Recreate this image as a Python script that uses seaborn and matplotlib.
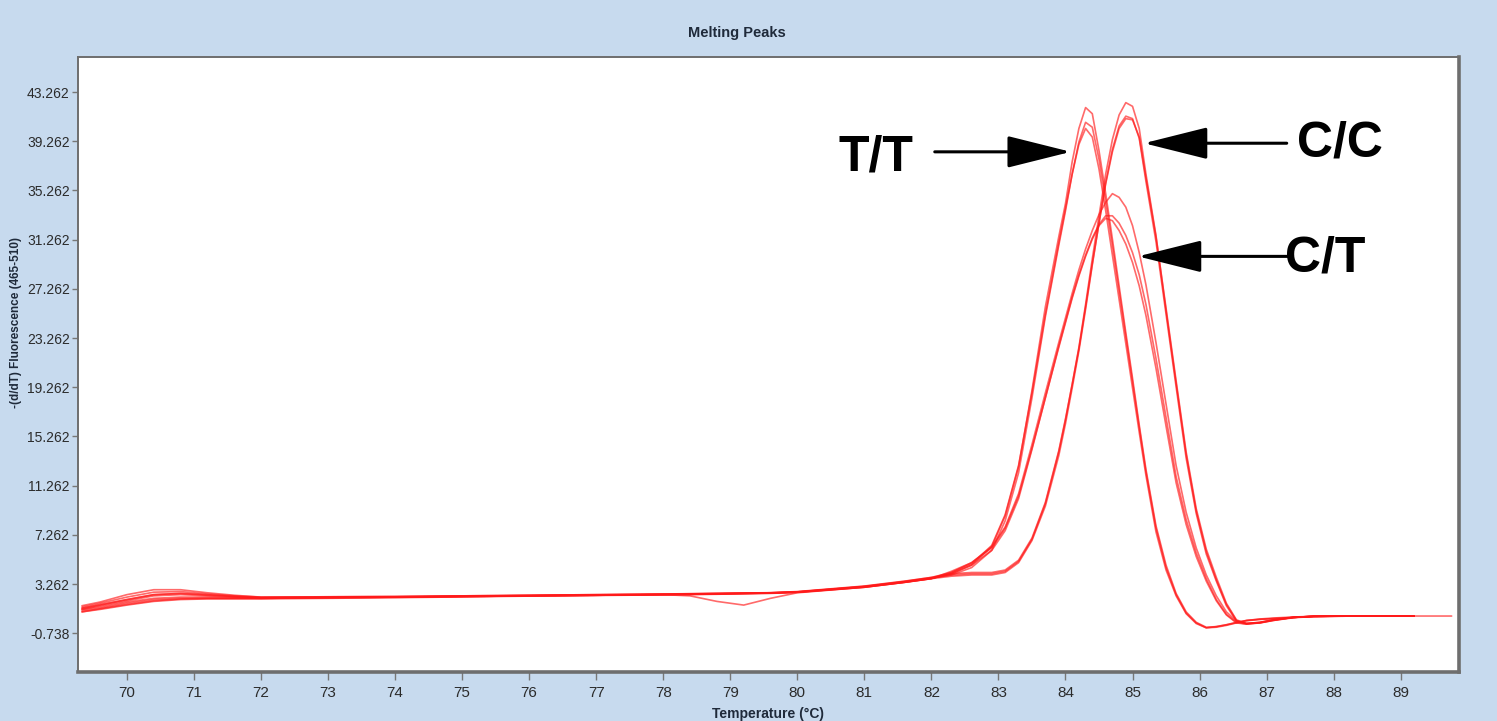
import numpy as np
import pandas as pd
import matplotlib
matplotlib.use("Agg")
import matplotlib.pyplot as plt
import seaborn as sns

# temperature grid (°C) shared by all traces
temps = [69.33, 69.6, 70.0, 70.4, 70.8, 71.2, 71.6, 72.0, 74.0, 76.0, 78.0, 78.4, 78.8, 79.2, 79.6, 80.0,
         81.0, 81.6, 82.0,
         82.3, 82.6, 82.9, 83.1, 83.3, 83.5, 83.7, 83.9, 84.0, 84.1, 84.2, 84.3, 84.4, 84.5, 84.6, 84.7,
         84.8, 84.9, 85.0, 85.1, 85.2, 85.35, 85.5, 85.65, 85.8, 85.95, 86.1, 86.25, 86.4, 86.55, 86.7,
         86.9, 87.1, 87.4, 87.7, 88.2, 89.2, 89.76]

# -(d/dT) fluorescence, one list per sample (None = no reading)
tt_1 = [1.5, 1.8, 2.4, 2.8, 2.8, 2.55, 2.35, 2.2, 2.25, 2.35, 2.45, 2.48, 2.5, 2.53, 2.56, 2.65, 3.1, 3.5, 3.8,
        4.1, 4.8, 6.3, 8.8, 12.8, 19.0, 25.8, 31.5, 34.2, 37.6, 40.3, 42.0, 41.5, 38.5, 35.0, 31.3, 27.5, 23.7,
        20.0, 16.2, 12.6, 8.0, 4.8, 2.5, 1.0, 0.15, -0.25, -0.2, -0.05, 0.15, 0.3, 0.4, 0.45, 0.55, 0.62, 0.66,
        0.66, None]
tt_2 = [1.2, 1.4, 1.8, 2.1, 2.2, 2.2, 2.15, 2.1, 2.2, 2.3, 2.4, 2.43, 2.46, 2.5, 2.53, 2.6, 3.05, 3.45, 3.75,
        4.0, 4.6, 6.0, 8.4, 12.3, 18.4, 25.0, 30.8, 33.6, 36.6, 39.2, 40.8, 40.4, 37.8, 34.4, 30.8, 27.1, 23.4,
        19.7, 16.0, 12.4, 7.8, 4.6, 2.4, 0.9, 0.1, -0.3, -0.25, -0.1, 0.1, 0.28, 0.38, 0.45, 0.55, 0.62, 0.65,
        0.65, None]
tt_3 = [1.0, 1.2, 1.55, 1.85, 2.0, 2.05, 2.05, 2.05, 2.15, 2.28, 2.38, 2.4, 2.43, 2.47, 2.5, 2.58, 3.0, 3.4, 3.7,
        4.2, 4.9, 6.4, 8.9, 12.9, 18.8, 25.2, 31.0, 33.8, 36.6, 39.0, 40.3, 39.6, 37.0, 33.6, 30.0, 26.4, 22.8,
        19.2, 15.6, 12.1, 7.5, 4.4, 2.3, 0.85, 0.05, -0.3, -0.2, -0.05, 0.12, 0.3, 0.42, 0.5, 0.58, 0.64, 0.66,
        0.66, None]
cc_1 = [1.4, 1.7, 2.2, 2.6, 2.65, 2.45, 2.3, 2.2, 2.25, 2.35, 2.45, 2.47, 2.5, 2.52, 2.55, 2.62, 3.05, 3.45, 3.75,
        4.0, 4.1, 4.1, 4.3, 5.1, 6.9, 9.8, 14.0, 16.6, 19.5, 22.5, 26.0, 29.7, 33.2, 36.6, 39.4, 41.4, 42.4,
        42.1, 40.3, 36.6, 31.6, 25.5, 19.6, 13.8, 9.2, 5.9, 3.6, 1.6, 0.3, 0.05, 0.15, 0.35, 0.55, 0.64, 0.66,
        0.66, 0.66]
cc_2 = [1.1, 1.3, 1.7, 2.0, 2.1, 2.1, 2.1, 2.1, 2.2, 2.3, 2.4, 2.42, 2.45, 2.48, 2.52, 2.6, 3.0, 3.4, 3.7,
        3.9, 4.0, 4.0, 4.2, 5.0, 6.8, 9.6, 13.7, 16.3, 19.2, 22.2, 25.6, 29.2, 32.6, 35.9, 38.6, 40.5, 41.3,
        41.1, 39.5, 36.0, 31.1, 25.2, 19.3, 13.5, 9.0, 5.7, 3.5, 1.5, 0.25, 0.05, 0.15, 0.35, 0.55, 0.64, 0.66,
        0.66, None]
cc_3 = [1.3, 1.6, 2.0, 2.4, 2.5, 2.35, 2.25, 2.15, 2.22, 2.32, 2.42, 2.45, 2.48, 2.5, 2.54, 2.62, 3.05, 3.42, 3.72,
        4.1, 4.2, 4.2, 4.4, 5.2, 7.0, 9.9, 14.1, 16.7, 19.5, 22.4, 25.8, 29.3, 32.6, 35.8, 38.4, 40.3, 41.1,
        41.0, 39.6, 36.3, 31.5, 25.7, 19.8, 14.0, 9.4, 6.1, 3.8, 1.7, 0.35, 0.05, 0.12, 0.32, 0.55, 0.64, 0.66,
        0.66, None]
ct_1 = [1.2, 1.5, 1.9, 2.3, 2.4, 2.3, 2.2, 2.15, 2.22, 2.33, 2.43, 2.46, 2.49, 2.52, 2.55, 2.63, 3.08, 3.48, 3.8,
        4.2, 5.0, 6.3, 7.9, 10.6, 14.6, 18.8, 22.9, 24.9, 26.9, 28.8, 30.5, 32.0, 33.3, 34.3, 35.0, 34.7, 33.9,
        32.4, 30.2, 27.6, 22.9, 17.9, 12.9, 9.1, 6.2, 4.0, 2.3, 1.0, 0.25, 0.05, 0.1, 0.3, 0.55, 0.64, 0.66,
        0.66, None]
ct_2 = [1.0, 1.25, 1.6, 1.9, 2.05, 2.1, 2.1, 2.1, 2.18, 2.3, 2.4, 2.43, 2.46, 2.5, 2.53, 2.6, 3.02, 3.42, 3.72,
        4.1, 4.8, 6.0, 7.6, 10.2, 14.2, 18.4, 22.6, 24.6, 26.6, 28.4, 30.0, 31.4, 32.5, 33.2, 33.2, 32.6, 31.6,
        30.2, 28.4, 26.0, 21.6, 16.8, 12.0, 8.5, 5.8, 3.7, 2.0, 0.8, 0.15, 0.0, 0.1, 0.3, 0.52, 0.62, 0.65,
        0.65, None]
ct_3 = [1.3, 1.55, 2.0, 2.4, 2.5, 2.4, 2.25, 2.15, 2.2, 2.3, 2.4, 2.3, 1.85, 1.55, 2.1, 2.55, 3.0, 3.4, 3.7,
        4.3, 5.0, 6.2, 7.8, 10.4, 14.3, 18.4, 22.5, 24.5, 26.5, 28.3, 29.9, 31.3, 32.4, 33.0, 32.8, 32.0, 30.9,
        29.4, 27.5, 25.1, 20.8, 16.1, 11.5, 8.1, 5.5, 3.5, 1.9, 0.75, 0.1, 0.0, 0.12, 0.35, 0.55, 0.63, 0.66,
        0.66, None]

samples = {"TT1": tt_1, "TT2": tt_2, "TT3": tt_3,
           "CC1": cc_1, "CC2": cc_2, "CC3": cc_3,
           "CT1": ct_1, "CT2": ct_2, "CT3": ct_3}

# genotype labels: (text, text position, arrow tail, arrow tip)
labels = [("T/T", (81.18, 37.9), (82.05, 38.4), (84.08, 38.4)),
          ("C/C", (88.1, 39.1), (87.3, 39.1), (85.17, 39.1)),
          ("C/T", (87.88, 29.7), (87.33, 29.9), (85.08, 29.9))]

ytick_vals = np.arange(-0.738, 43.3, 4.0)
xtick_vals = list(range(70, 90))

rows = []
for name, vals in samples.items():
    for t, v in zip(temps, vals):
        rows.append({"temp": t, "value": v, "sample": name})
df = pd.DataFrame(rows).dropna()

sns.set_theme(style="white")
plt.rcParams["font.family"] = ["Liberation Sans", "DejaVu Sans"]

bg = "#c7daee"
fig = plt.figure(figsize=(14.97, 7.21), dpi=100, facecolor=bg)
ax = fig.add_axes([78 / 1497, 1 - 672 / 721, (1459 - 78) / 1497, (672 - 57) / 721])
ax.set_facecolor("white")

sns.lineplot(data=df, x="temp", y="value", units="sample", estimator=None, sort=False,
             color="#ff1a1a", lw=1.2, alpha=0.65, ax=ax, legend=False)

ax.set_xlim(69.27, 89.87)
ax.set_ylim(-3.89, 46.11)
ax.set_xticks(xtick_vals)
ax.set_xticklabels([str(v) for v in xtick_vals])
ax.set_yticks(ytick_vals)
ax.set_yticklabels([f"{v:.3f}" for v in ytick_vals])

for lab in ax.get_yticklabels():
    lab.set_color("#2b2b2b")
    lab.set_fontsize(10)
for lab in ax.get_xticklabels():
    lab.set_color("#2b2b2b")
    lab.set_fontsize(11)

ax.tick_params(axis="both", which="both", direction="out", length=4, width=1, color="#777777",
               bottom=True, left=True, pad=2)
ax.tick_params(axis="x", length=6, pad=4)

for side, sp in ax.spines.items():
    sp.set_color("#6e6e6e")
    sp.set_linewidth(1.4)
ax.spines["bottom"].set_linewidth(2.6)
ax.spines["right"].set_linewidth(2.6)

ax.set_xlabel("Temperature (°C)", fontsize=10, fontweight="bold", color="#1f2a3a", labelpad=5)
ax.set_ylabel("")
fig.text(16 / 1497, 1 - 322 / 721, "-(d/dT) Fluorescence (465-510)", rotation=90, ha="center", va="center",
         fontsize=8.5, fontweight="bold", color="#1f2a3a")
fig.text(737 / 1497, 1 - 33 / 721, "Melting Peaks", ha="center", va="center",
         fontsize=10.5, fontweight="bold", color="#1f2a3a")

for text, tpos, tail, tip in labels:
    ax.text(tpos[0], tpos[1], text, ha="center", va="center", fontsize=36, fontweight="bold", color="black")
    ax.annotate("", xy=tip, xytext=tail,
                arrowprops=dict(arrowstyle="-|>,head_length=4.0,head_width=1.0", mutation_scale=10,
                                lw=2.2, color="black", shrinkA=0, shrinkB=0))

fig.savefig("out.png", dpi=100, facecolor=bg)
